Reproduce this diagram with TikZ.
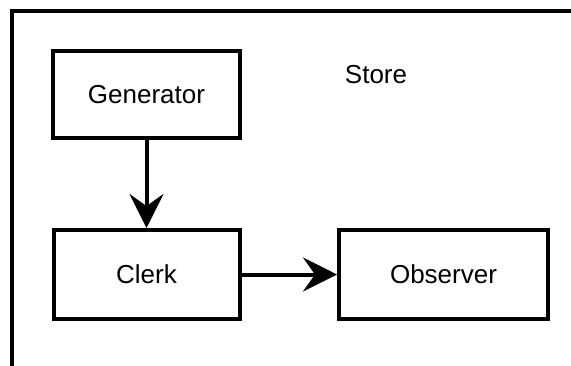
\documentclass[tikz,border=0pt]{standalone}
\usepackage{fontspec}
\setmainfont{Liberation Sans}
\usetikzlibrary{arrows.meta}
\begin{document}
\begin{tikzpicture}[x=1pt,y=-1pt,
  box/.style={draw,line width=4pt,rectangle,inner sep=0pt,font=\fontsize{26}{30}\selectfont},
  lbl/.style={inner sep=0pt,font=\fontsize{26}{30}\selectfont},
  arr/.style={line width=4pt,-{Stealth[length=34pt,width=34pt,inset=12pt]}},
  frame/.style={line width=4pt}]
\useasboundingbox (0,0) rectangle (571,365);
\coordinate (fb) at (12,380);
\coordinate (fc) at (12,11);
\coordinate (fr) at (585,11);
\draw[frame] (fb) -- (fc) -- (fr);
\node[box,minimum width=187pt,minimum height=87pt] (gen) at (146.5,94.5) {Generator};
\node[box,minimum width=186pt,minimum height=89pt] (clerk) at (146.5,274.5) {Clerk};
\node[box,minimum width=209pt,minimum height=89pt] (obs) at (443.5,274.5) {Observer};
\node[lbl] (store) at (376,75) {Store};
\draw[arr] (gen.south) -- (clerk.north);
\draw[arr] (clerk.east) -- (obs.west);
\end{tikzpicture}
\end{document}
